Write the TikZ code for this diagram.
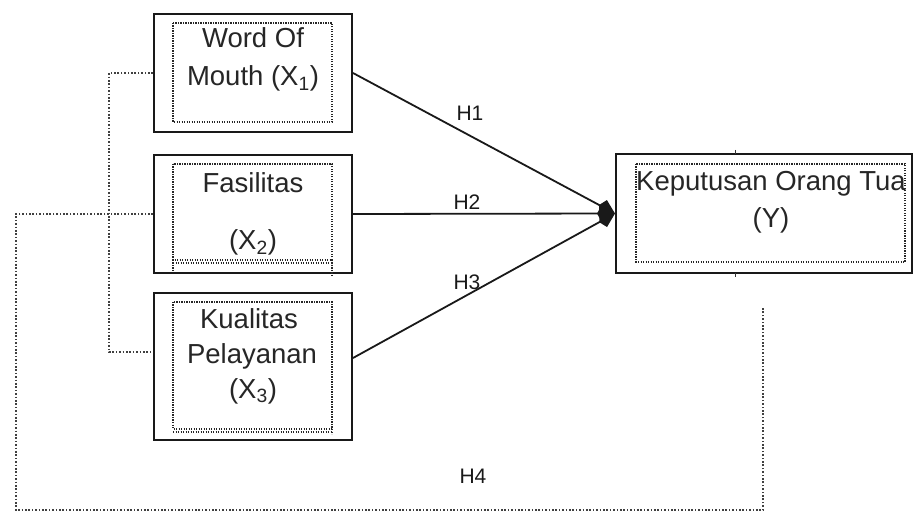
\documentclass[tikz,border=0pt]{standalone}
\usepackage{fontspec}
\setmainfont{Liberation Sans}
\usetikzlibrary{arrows.meta,calc}
\begin{document}
\begin{tikzpicture}[x=1pt,y=-1pt,
  outerbox/.style={draw=black!90, line width=2pt, minimum width=198pt, inner sep=0pt},
  innerbox/.style={draw=black!85, line width=1.3pt, dash pattern=on 1.3pt off 1.2pt},
  lbl/.style={font=\fontsize{27.5}{32}\selectfont, inner sep=0pt, anchor=base, text=black!85},
  hlbl/.style={font=\fontsize{21}{24}\selectfont, inner sep=0pt, text=black!90},
  hline/.style={line width=1.8pt, black!90},
  arrowtip/.style={-{Kite[length=18pt,width=16pt]}},
  dotline/.style={line width=1.6pt, dash pattern=on 1.6pt off 1.8pt, black!75},
]
\useasboundingbox (0,0) rectangle (918,518);
\fill[white] (0,0) rectangle (918,518);

% outer boxes
\node[outerbox, minimum height=118pt] (x1) at (253,73) {};
\node[outerbox, minimum height=118pt] (x2) at (253,214) {};
\node[outerbox, minimum height=147pt] (x3) at (253,366.5) {};
\node[outerbox, minimum width=296pt, minimum height=119pt] (y) at (764,213.5) {};

% inner dotted boxes
\draw[innerbox] (173,23) rectangle (332,122);
\draw[innerbox] (173,164) rectangle (332,260);
\draw[innerbox] (173,263) -- (332,263);
\draw[innerbox] (173,260) -- (173,272);
\draw[innerbox] (332,260) -- (332,276);
\draw[innerbox] (173,302) rectangle (332,429);
\draw[innerbox] (173,432) -- (332,432);
\draw[innerbox] (332,429) -- (332,434);
\draw[innerbox] (636,164) rectangle (905,262);

% small ticks on Y box
\draw[line width=1pt, black!80] (735,150) -- (735,154);
\draw[line width=1pt, black!80] (735,273) -- (735,277);

% texts
\node[lbl] (t1a) at (253,48) {Word Of};
\node[lbl] (t1b) at (253,86) {Mouth (X\textsubscript{1})};
\node[lbl] (t2a) at (253,193) {Fasilitas};
\node[lbl] (t2b) at (253,250) {(X\textsubscript{2})};
\node[lbl] (t3a) at (249,329) {Kualitas};
\node[lbl] (t3b) at (252,363) {Pelayanan};
\node[lbl] (t3c) at (253,398) {(X\textsubscript{3})};
\node[lbl] (tya) at (771,191) {Keputusan Orang Tua};
\node[lbl] (tyb) at (771,228) {(Y)};

% hypothesis labels
\node[hlbl] (h1) at (470,113) {H1};
\node[hlbl] (h2) at (467,202) {H2};
\node[hlbl] (h3) at (467,282) {H3};
\node[hlbl] (h4) at (473,476) {H4};

% connectors
\coordinate (x3r) at ([yshift=8.5pt]x3.east);
\draw[hline, arrowtip] (x1.east) -- (y.west);
\draw[hline, arrowtip] (x2.east) -- (y.west);
\draw[hline, arrowtip] (x3r) -- (y.west);

% dotted links
\coordinate (x3l) at ([yshift=14.5pt]x3.west);
\coordinate (j1) at ([xshift=-44pt]x1.west);
\draw[dotline] (x1.west) -- (j1) |- (x3l);
\coordinate (lc) at (16,510);
\coordinate (h4end) at (763,307);
\draw[dotline] (x2.west) -| (lc) -| (h4end);
\end{tikzpicture}
\end{document}
